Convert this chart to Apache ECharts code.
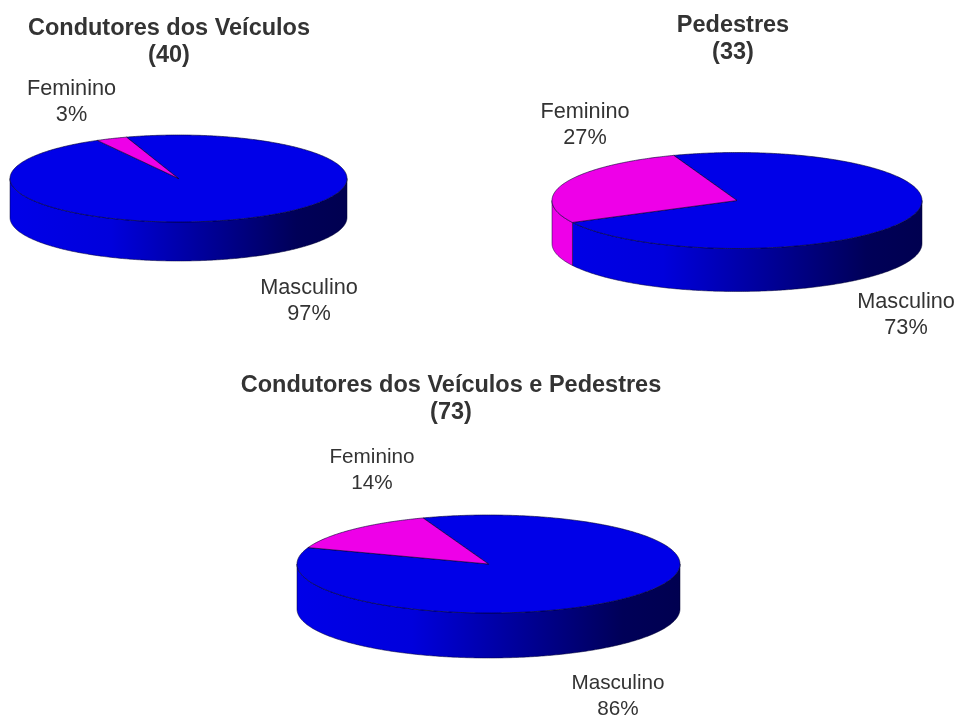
<!DOCTYPE html>
<html>
<head>
<meta charset="utf-8">
<style>html,body{margin:0;padding:0;background:#fff}#c{width:957px;height:716px}</style>
<script src="https://cdn.jsdelivr.net/npm/echarts@6/dist/echarts.min.js"></script>
</head>
<body>
<div id="c"></div>
<script>
// Data
const categories = ['Masculino', 'Feminino'];
const condutores = [97, 3];
const pedestres = [73, 27];
const ambos = [86, 14];
const chartTitles = [
  'Condutores dos Veículos\n(40)',
  'Pedestres\n(33)',
  'Condutores dos Veículos e Pedestres\n(73)'
];

// Layout and style
const pies = [
  { values: condutores, cx: 178.5, cy: 178.5, rx: 168.5, ry: 43.5, depth: 39, start: -18,
    size: 21.7, labels: [[309, 301.5], [71.5, 102.5]], title: [169, 42.5] },
  { values: pedestres, cx: 737, cy: 200.5, rx: 185, ry: 48, depth: 43, start: -20,
    size: 21.7, labels: [[906, 315], [585, 125.5]], title: [733, 39.5] },
  { values: ambos, cx: 488.5, cy: 564, rx: 191.5, ry: 49, depth: 45, start: -20,
    size: 20.7, labels: [[618, 696.5], [372, 470]], title: [451, 399.5] }
];
const topColors = ['#0000E8', '#EE00E8'];
const sideStops = [
  [{ offset: 0, color: '#0000E8' }, { offset: 0.3, color: '#0000DC' }, { offset: 0.55, color: '#0000A0' },
   { offset: 0.85, color: '#000058' }, { offset: 1, color: '#000050' }],
  [{ offset: 0, color: '#EE00E8' }, { offset: 1, color: '#EE00E8' }]
];
const edge = '#00002e';
const FONT = '"Liberation Sans", Arial, sans-serif';

function pt(p, deg, dy) {
  const t = deg * Math.PI / 180;
  return [p.cx + p.rx * Math.sin(t), p.cy - p.ry * Math.cos(t) + (dy || 0)];
}
function arc(p, a, b, dy) {
  const n = Math.max(2, Math.ceil(Math.abs(b - a) * 1.5)), out = [];
  for (let i = 0; i <= n; i++) out.push(pt(p, a + (b - a) * i / n, dy));
  return out;
}

function renderSlice(p) {
  return function (params, api) {
    const i = params.dataIndex;
    const total = p.values.reduce((s, v) => s + v, 0);
    const before = p.values.slice(0, i).reduce((s, v) => s + v, 0);
    const a = p.start + before / total * 360;
    const b = a + api.value(0) / total * 360;
    const children = [];
    // front wall
    [-360, 0, 360].forEach(k => {
      const lo = Math.max(a, 90 + k), hi = Math.min(b, 270 + k);
      if (hi > lo) {
        children.push({
          type: 'polygon',
          shape: { points: arc(p, lo, hi, 0).concat(arc(p, hi, lo, p.depth)) },
          style: {
            fill: new echarts.graphic.LinearGradient(p.cx - p.rx, 0, p.cx + p.rx, 0, sideStops[i], true),
            stroke: edge, lineWidth: 0.5
          }
        });
      }
    });
    // top face
    children.push({
      type: 'polygon',
      shape: { points: [[p.cx, p.cy]].concat(arc(p, a, b, 0)) },
      style: { fill: topColors[i], stroke: edge, lineWidth: 0.6 }
    });
    // label
    children.push({
      type: 'text',
      style: {
        x: p.labels[i][0], y: p.labels[i][1],
        text: categories[i] + '\n' + api.value(0) + '%',
        fill: '#333333', font: p.size + 'px ' + FONT,
        align: 'center', verticalAlign: 'middle', lineHeight: 26
      }
    });
    return { type: 'group', children };
  };
}

const chart = echarts.init(document.getElementById('c'), null, { renderer: 'canvas' });
chart.setOption({
  animation: false,
  backgroundColor: '#ffffff',
  title: pies.map((p, i) => ({
    text: chartTitles[i],
    left: p.title[0], top: p.title[1] - 27,
    textAlign: 'center',
    padding: 0,
    textStyle: { fontFamily: FONT, fontWeight: 'bold', fontSize: 23.5, lineHeight: 27, color: '#333333' }
  })),
  series: pies.map(p => ({
    type: 'custom',
    coordinateSystem: 'none',
    clip: false,
    silent: true,
    renderItem: renderSlice(p),
    data: p.values.map((v, i) => ({ name: categories[i], value: [v] }))
  }))
});
</script>
</body>
</html>
